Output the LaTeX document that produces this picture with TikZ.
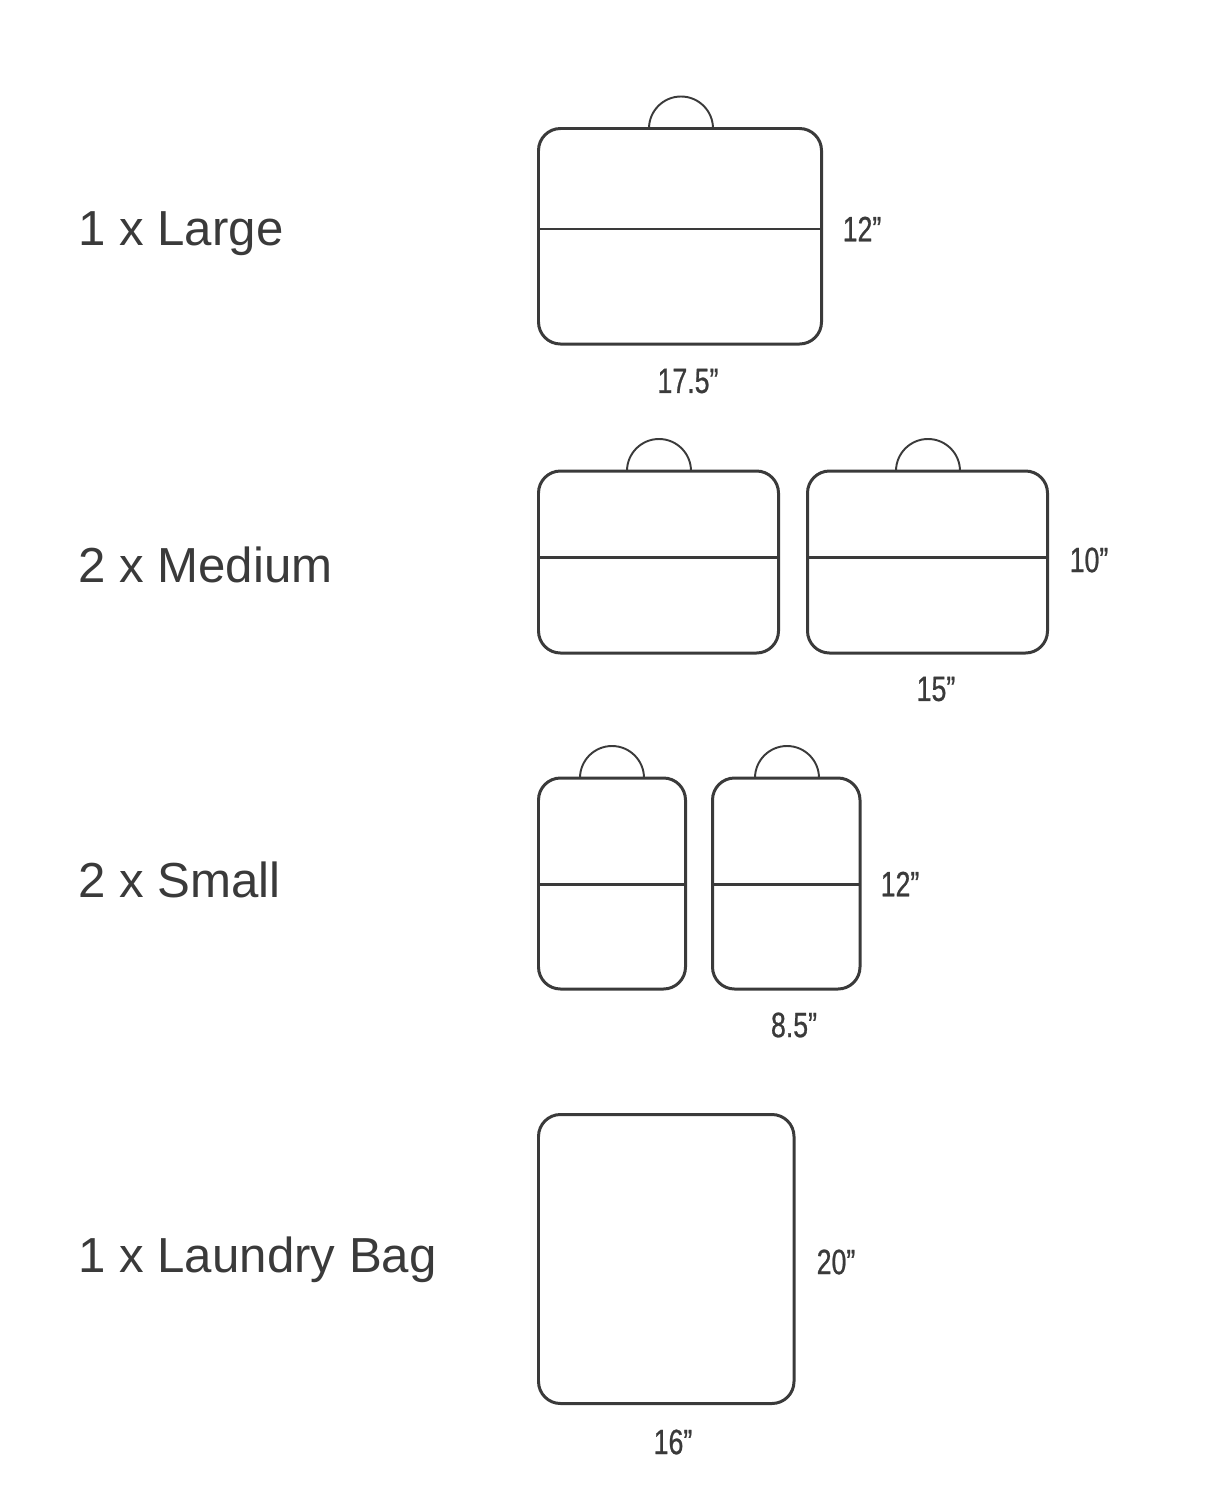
\documentclass[tikz,border=0pt]{standalone}
\usepackage{fontspec}
\setmainfont{Liberation Sans}
\newfontfamily\dimfont[FakeStretch=0.76,FakeBold=0.7]{Liberation Sans}
\usetikzlibrary{calc}
\definecolor{ink}{HTML}{3A3A3A}

\begin{document}
\begin{tikzpicture}[x=0.02cm,y=0.02cm,
  bag/.style={draw=ink,line width=1.7pt,rounded corners=0.44cm},
  seam/.style={draw=ink,line width=1.7pt},
  handle/.style={draw=ink,line width=1.1pt},
  kind/.style={anchor=base west,text=ink,inner sep=0pt,font=\fontsize{28}{32}\selectfont},
  size/.style={text=ink,inner sep=0pt,font=\dimfont\fontsize{20}{24}\selectfont}]
  \useasboundingbox (0,0) rectangle (1224,-1498);

  \node[kind] (large) at (78,-245) {1 x Large};
  \node[kind] (medium) at (78,-582) {2 x Medium};
  \node[kind] (small) at (78,-897) {2 x Small};
  \node[kind] (laundry) at (78,-1272) {1 x Laundry Bag};

  \coordinate (L) at (681,-128.5);
  \draw[handle] ($ (L) + (-32,0) $) arc[start angle=180,end angle=0,radius=32];
  \draw[bag] (538.5,-128.5) rectangle (821.5,-344);
  \draw[seam] (538.5,-229) -- (821.5,-229);
  \node[size] (l h) at (862,-229) {12”};
  \node[size] (l w) at (688,-381) {17.5”};

  \coordinate (M1) at (659,-471);
  \coordinate (M2) at (928,-471);
  \draw[handle] ($ (M1) + (-32,0) $) arc[start angle=180,end angle=0,radius=32];
  \draw[handle] ($ (M2) + (-32,0) $) arc[start angle=180,end angle=0,radius=32];
  \draw[bag] (538.5,-471) rectangle (778.5,-653);
  \draw[bag] (807.5,-471) rectangle (1047.5,-653);
  \draw[seam] (538.5,-557) -- (778.5,-557);
  \draw[seam] (807.5,-557) -- (1047.5,-557);
  \node[size] (m h) at (1089,-560) {10”};
  \node[size] (m w) at (936,-689) {15”};

  \coordinate (S1) at (612,-778);
  \coordinate (S2) at (787,-778);
  \draw[handle] ($ (S1) + (-32,0) $) arc[start angle=180,end angle=0,radius=32];
  \draw[handle] ($ (S2) + (-32,0) $) arc[start angle=180,end angle=0,radius=32];
  \draw[bag] (538.5,-778) rectangle (685.5,-989);
  \draw[bag] (712.5,-778) rectangle (860,-989);
  \draw[seam] (538.5,-884) -- (685.5,-884);
  \draw[seam] (712.5,-884) -- (860,-884);
  \node[size] (s h) at (900,-884) {12”};
  \node[size] (s w) at (794,-1025) {8.5”};

  \draw[bag] (538.5,-1114.5) rectangle (794,-1403.5);
  \node[size] (b h) at (836,-1262) {20”};
  \node[size] (b w) at (673,-1442) {16”};
\end{tikzpicture}
\end{document}
